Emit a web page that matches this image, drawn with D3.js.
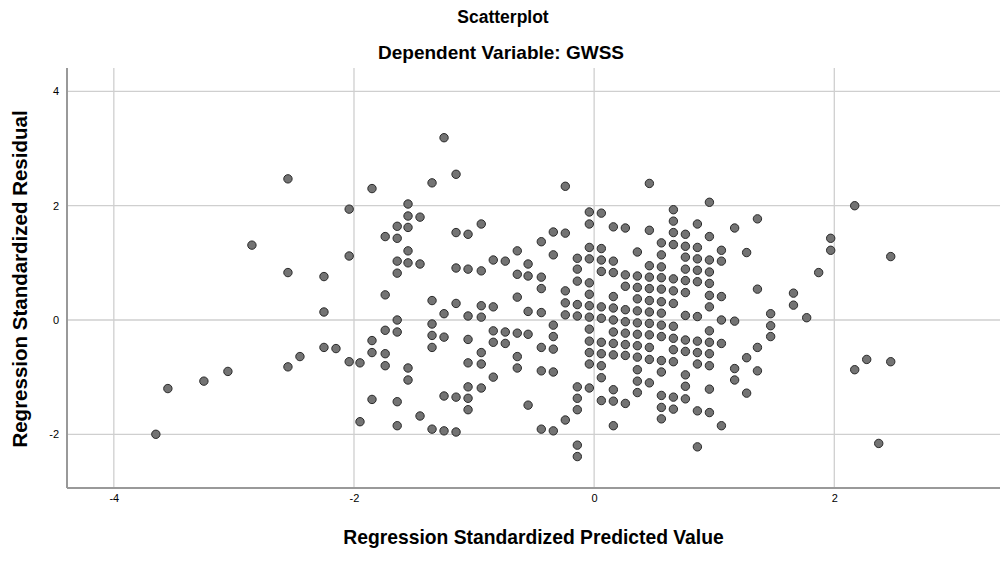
<!DOCTYPE html>
<html><head><meta charset="utf-8">
<script src="https://cdn.jsdelivr.net/npm/d3@7"></script>
<style>body{margin:0;background:#fff;} svg{display:block;}</style>
</head><body>
<svg id="chart" width="1006" height="583"></svg>
<script>
// Data: x = Regression Standardized Predicted Value, residuals grouped per predicted value
const predictedCols = [-3.65,-3.55,-3.25,-3.05,-2.85,-2.55,-2.45,-2.25,-2.15,-2.04,-1.95,-1.85,-1.74,-1.64,-1.55,-1.45,-1.35,-1.25,-1.15,-1.05,-0.94,-0.84,-0.74,-0.64,-0.55,-0.44,-0.34,-0.24,-0.14,-0.04,0.06,0.16,0.26,0.36,0.46,0.56,0.66,0.76,0.86,0.96,1.06,1.17,1.27,1.36,1.47,1.66,1.77,1.87,1.97,2.17,2.27,2.37,2.47];
const residualCols = [
[-2.00],[-1.20],[-1.07],[-0.90],[1.31],
[2.47,0.83,-0.82],[-0.64],[0.76,0.14,-0.48],[-0.50],[1.94,1.12,-0.73],[-0.75,-1.78],
[2.30,-0.36,-0.57,-1.39],
[1.46,0.44,-0.18,-0.59,-0.80],
[1.64,1.43,1.03,0.82,0.00,-0.21,-1.43,-1.85],
[2.03,1.82,1.62,1.21,1.00,-0.84,-1.05],
[1.80,0.98,-1.68],
[2.40,0.34,-0.07,-0.27,-0.48,-1.91],
[3.19,0.11,-0.30,-1.33,-1.94],
[2.55,1.53,0.91,0.29,-1.35,-1.96],
[1.50,0.89,0.07,-0.34,-0.75,-1.17,-1.37,-1.57],
[1.68,0.86,0.25,0.05,-0.57,-0.77,-1.19],
[1.05,0.23,-0.19,-0.39,-1.00],
[1.03,-0.21,-0.41],
[1.21,0.80,0.40,-0.23,-0.64,-0.84],
[0.98,0.77,0.15,-0.25,-1.49],
[1.37,0.75,0.55,0.13,-0.48,-0.89,-1.91],
[1.54,1.14,-0.09,-0.29,-0.51,-0.91,-1.94],
[2.34,1.52,0.51,0.30,0.09,-1.75],
[1.08,0.89,0.68,0.27,0.07,-1.17,-1.37,-1.57,-2.19,-2.39],
[1.89,1.68,1.27,1.07,0.65,0.45,0.25,0.05,-0.16,-0.37,-0.57,-0.77,-1.19],
[1.87,1.25,1.05,0.85,0.23,0.03,-0.39,-0.59,-0.80,-1.01,-1.41],
[1.63,1.03,0.83,0.41,0.21,0.00,-0.21,-0.41,-0.61,-1.22,-1.42,-1.85],
[1.61,0.79,0.59,0.18,-0.03,-0.23,-0.43,-0.62,-1.46],
[1.19,0.77,0.57,0.37,0.16,-0.05,-0.25,-0.45,-0.65,-0.87,-1.07,-1.27],
[2.39,1.57,0.95,0.75,0.55,0.34,0.14,-0.06,-0.26,-0.48,-0.69,-1.10],
[1.35,1.14,0.93,0.74,0.54,0.32,0.12,-0.09,-0.29,-0.71,-0.91,-1.32,-1.53,-1.73],
[1.93,1.73,1.53,1.32,0.72,0.51,0.29,-0.11,-0.32,-0.52,-0.73,-1.35,-1.56],
[1.50,1.29,1.10,0.89,0.69,0.48,0.08,-0.35,-0.55,-0.96,-1.16,-1.38],
[1.68,1.27,1.07,0.87,0.67,0.06,-0.37,-0.57,-0.77,-1.59,-2.22],
[2.06,1.46,1.05,0.84,0.64,0.43,0.23,-0.19,-0.39,-0.59,-0.80,-1.21,-1.62],
[1.22,1.03,0.41,0.00,-0.41,-1.85],
[1.61,-0.02,-0.85,-1.05],
[1.18,-0.66,-1.28],
[1.77,0.54,-0.48,-0.89],
[0.11,-0.10,-0.29],
[0.47,0.26],[0.04],[0.83],[1.43,1.22],
[2.00,-0.87],[-0.69],[-2.16],[1.11,-0.73]
];
const xTicks = [-4,-2,0,2];
const yTicks = [-2,0,2,4];
const title1 = "Scatterplot";
const title2 = "Dependent Variable: GWSS";
const xTitle = "Regression Standardized Predicted Value";
const yTitle = "Regression Standardized Residual";

const points = [];
predictedCols.forEach((px,i)=>residualCols[i].forEach(r=>points.push({x:px,y:r})));

const svg = d3.select("#chart");
const L=67, R=1000, T=68, B=488;
const x = d3.scaleLinear().domain([-4.39,3.38]).range([L,R]);
const y = d3.scaleLinear().domain([-2.94,4.41]).range([B,T]);
const font = "'Liberation Sans', Arial, sans-serif";
const fmt = d => String(d);

// gridlines
svg.append("g").selectAll("line").data(xTicks).join("line")
  .attr("x1",d=>x(d)).attr("x2",d=>x(d)).attr("y1",T).attr("y2",B)
  .attr("stroke","#cfcfcf").attr("stroke-width",1.3);
svg.append("g").selectAll("line").data(yTicks).join("line")
  .attr("x1",L).attr("x2",R).attr("y1",d=>y(d)).attr("y2",d=>y(d))
  .attr("stroke","#cfcfcf").attr("stroke-width",1.3);

// axes
const xAxis = d3.axisBottom(x).tickValues(xTicks).tickFormat(fmt).tickSize(0).tickPadding(6);
const yAxis = d3.axisLeft(y).tickValues(yTicks).tickFormat(fmt).tickSize(0).tickPadding(8);
const gx = svg.append("g").attr("transform",`translate(0,${B})`).call(xAxis);
const gy = svg.append("g").attr("transform",`translate(${L},0)`).call(yAxis);
[gx,gy].forEach(g=>{
  g.select(".domain").attr("stroke","#999").attr("stroke-width",2);
  g.selectAll("text").attr("font-family",font).attr("font-size",11).attr("fill","#000");
});
gx.select(".domain").attr("d",`M${L},0H${R}`);
gy.select(".domain").attr("d",`M0,${T}V${B}`);

// points
svg.append("g").selectAll("circle").data(points).join("circle")
  .attr("cx",d=>x(d.x)).attr("cy",d=>y(d.y)).attr("r",4.2)
  .attr("fill","#737373").attr("stroke","#2a2a2a").attr("stroke-width",1);

// titles
svg.append("text").attr("x",503).attr("y",23).attr("text-anchor","middle")
  .attr("font-family",font).attr("font-weight","bold").attr("font-size",17.5).text(title1);
svg.append("text").attr("x",501).attr("y",59).attr("text-anchor","middle")
  .attr("font-family",font).attr("font-weight","bold").attr("font-size",19).text(title2);
svg.append("text").attr("x",(L+R)/2).attr("y",544).attr("text-anchor","middle")
  .attr("font-family",font).attr("font-weight","bold").attr("font-size",19.3).text(xTitle);
svg.append("text").attr("transform",`translate(27,${(T+B)/2+1}) rotate(-90)`).attr("text-anchor","middle")
  .attr("font-family",font).attr("font-weight","bold").attr("font-size",20.5).text(yTitle);
</script>
</body></html>
